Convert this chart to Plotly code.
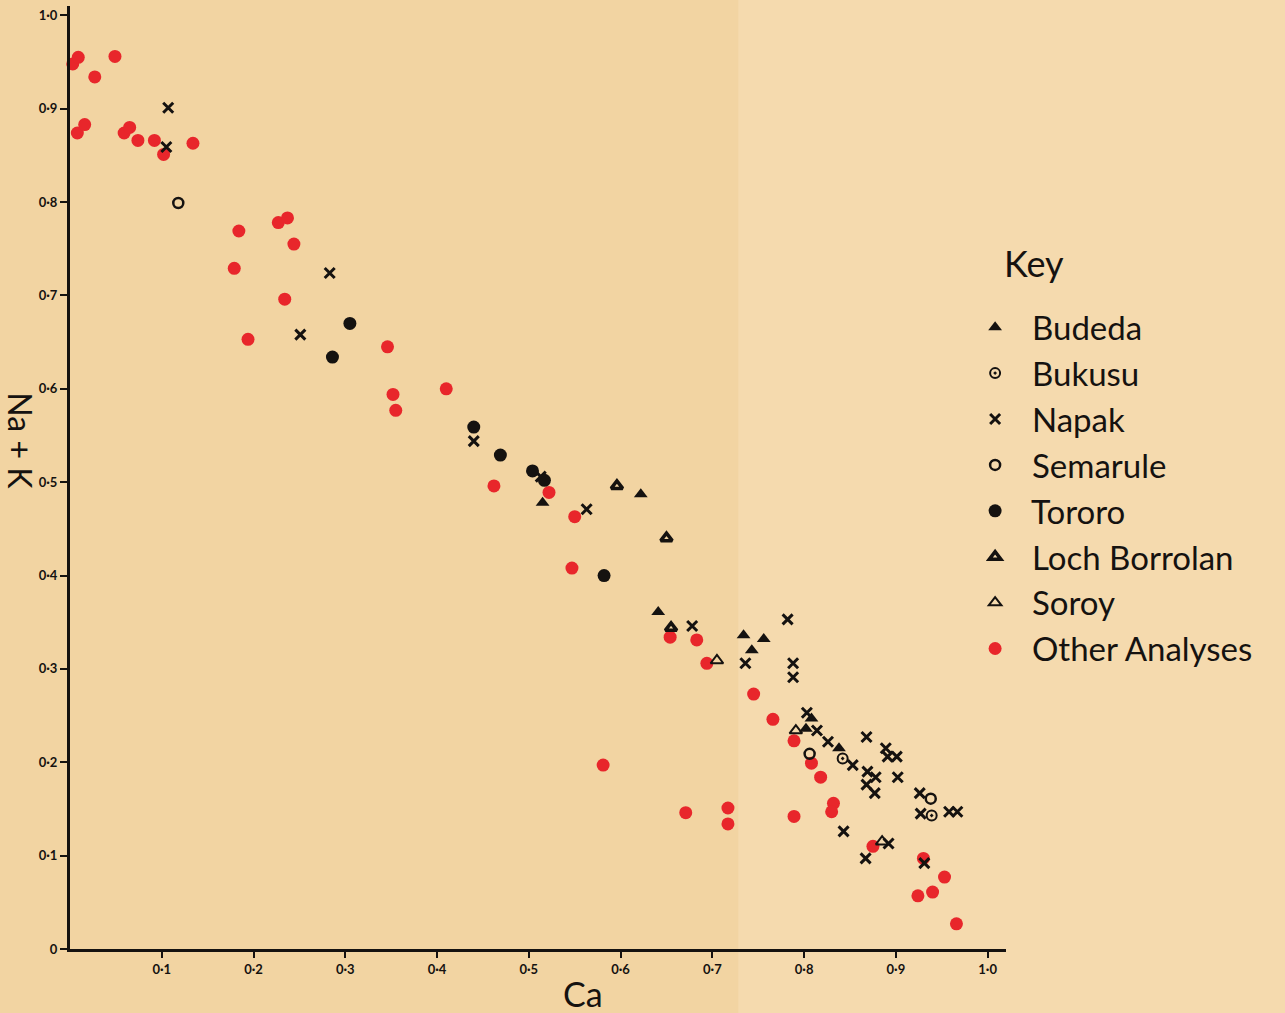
import plotly.graph_objects as go

# Ca vs Na + K for each locality (atomic proportions)
budeda_ca = [0.515, 0.622, 0.641, 0.734, 0.756, 0.743, 0.808, 0.802, 0.838]
budeda_nak = [0.478, 0.487, 0.361, 0.336, 0.332, 0.320, 0.247, 0.236, 0.215]

bukusu_ca = [0.842, 0.939]
bukusu_nak = [0.204, 0.143]

napak_ca = [0.107, 0.105, 0.283, 0.251, 0.440, 0.513, 0.563, 0.678, 0.736, 0.782,
            0.788, 0.788, 0.803, 0.814, 0.826, 0.853, 0.868, 0.889, 0.891, 0.901,
            0.869, 0.878, 0.868, 0.877, 0.902, 0.926, 0.927, 0.958, 0.967, 0.843,
            0.892, 0.867, 0.931]
napak_nak = [0.901, 0.859, 0.724, 0.658, 0.544, 0.506, 0.471, 0.346, 0.306, 0.353,
             0.306, 0.291, 0.253, 0.234, 0.222, 0.197, 0.227, 0.215, 0.206, 0.206,
             0.190, 0.184, 0.176, 0.167, 0.184, 0.167, 0.145, 0.147, 0.147, 0.126,
             0.113, 0.097, 0.092]

semarule_ca = [0.118, 0.806, 0.938]
semarule_nak = [0.799, 0.209, 0.161]

tororo_ca = [0.305, 0.286, 0.440, 0.469, 0.504, 0.517, 0.582]
tororo_nak = [0.670, 0.634, 0.559, 0.529, 0.512, 0.502, 0.400]

loch_ca = [0.596, 0.650, 0.655]
loch_nak = [0.496, 0.440, 0.344]

soroy_ca = [0.705, 0.791, 0.885]
soroy_nak = [0.309, 0.234, 0.115]

other_ca = [0.003, 0.009, 0.027, 0.049, 0.008, 0.016, 0.059, 0.065, 0.074, 0.092,
            0.102, 0.134, 0.184, 0.227, 0.237, 0.244, 0.179, 0.234, 0.194, 0.346,
            0.352, 0.355, 0.410, 0.462, 0.522, 0.550, 0.547, 0.654, 0.683, 0.694,
            0.745, 0.766, 0.789, 0.808, 0.818, 0.832, 0.830, 0.581, 0.671, 0.717,
            0.717, 0.789, 0.875, 0.930, 0.953, 0.940, 0.924, 0.966]
other_nak = [0.948, 0.955, 0.934, 0.956, 0.874, 0.883, 0.874, 0.880, 0.866, 0.866,
             0.851, 0.863, 0.769, 0.778, 0.783, 0.755, 0.729, 0.696, 0.653, 0.645,
             0.594, 0.577, 0.600, 0.496, 0.489, 0.463, 0.408, 0.334, 0.331, 0.306,
             0.273, 0.246, 0.223, 0.199, 0.184, 0.156, 0.147, 0.197, 0.146, 0.151,
             0.134, 0.142, 0.110, 0.097, 0.077, 0.061, 0.057, 0.027]

tick_vals = [0.1, 0.2, 0.3, 0.4, 0.5, 0.6, 0.7, 0.8, 0.9, 1.0]
tick_text = ["0·1", "0·2", "0·3", "0·4", "0·5", "0·6", "0·7", "0·8", "0·9", "1·0"]

INK = "#151210"
RED = "#E8262B"
PAPER_LEFT = "#F2D4A2"
PAPER_RIGHT = "#F5DAAE"
FONT = "Lato"
GAP = "&nbsp;&nbsp;"

fig = go.Figure()

# red background analyses go underneath the named localities
fig.add_trace(go.Scatter(
    x=other_ca, y=other_nak, mode="markers", name=GAP + "Other Analyses",
    legendrank=8,
    marker=dict(symbol="circle", size=13, color=RED, line=dict(width=0)),
))

series = [
    ("Budeda", budeda_ca, budeda_nak, dict(symbol="triangle-up", size=12, color=INK)),
    ("Bukusu", bukusu_ca, bukusu_nak,
     dict(symbol="circle-open-dot", size=10, color=INK, line=dict(width=2, color=INK))),
    ("Napak", napak_ca, napak_nak,
     dict(symbol="x-thin", size=10, color=INK, line=dict(width=3, color=INK))),
    ("Semarule", semarule_ca, semarule_nak,
     dict(symbol="circle-open", size=10, color=INK, line=dict(width=2.5, color=INK))),
    ("Tororo", tororo_ca, tororo_nak, dict(symbol="circle", size=13, color=INK)),
    ("Loch Borrolan", loch_ca, loch_nak,
     dict(symbol="triangle-up-open", size=10, color=INK, line=dict(width=3.5, color=INK))),
    ("Soroy", soroy_ca, soroy_nak,
     dict(symbol="triangle-up-open", size=11, color=INK, line=dict(width=2, color=INK))),
]
for rank, (name, xs, ys, marker) in enumerate(series, start=1):
    fig.add_trace(go.Scatter(
        x=xs, y=ys, mode="markers", name=GAP + name, legendrank=rank, marker=marker,
    ))

fig.update_traces(cliponaxis=False)

tick_font = dict(family=FONT, size=13, color=INK, weight=700)

fig.update_xaxes(
    range=[0, 1.02], tickvals=tick_vals, ticktext=tick_text,
    ticks="outside", ticklen=6, tickwidth=2, tickcolor=INK,
    showline=True, linewidth=3, linecolor=INK,
    showgrid=False, zeroline=False,
    tickfont=tick_font,
)
fig.update_yaxes(
    range=[0, 1.01], tickvals=[0] + tick_vals, ticktext=["0"] + tick_text,
    ticks="outside", ticklen=7, tickwidth=2, tickcolor=INK,
    showline=True, linewidth=3, linecolor=INK,
    showgrid=False, zeroline=False,
    tickfont=tick_font,
)

fig.update_layout(
    width=1285, height=1013,
    margin=dict(l=70, r=279, t=6, b=64),
    paper_bgcolor=PAPER_LEFT,
    plot_bgcolor="rgba(0,0,0,0)",
    font=dict(family=FONT, color=INK),
    showlegend=True,
    legend=dict(
        x=0.967, xanchor="left", y=0.689, yanchor="top",
        bgcolor="rgba(0,0,0,0)",
        font=dict(family=FONT, size=33, color=INK),
        itemsizing="trace",
    ),
    shapes=[
        # lighter half of the folded sheet
        dict(type="rect", xref="paper", yref="paper", x0=0.714, x1=1.4, y0=-0.1, y1=1.1,
             fillcolor=PAPER_RIGHT, line=dict(width=0), layer="below"),
    ],
    annotations=[
        dict(text="Key", xref="paper", yref="paper", x=0.996, y=0.727,
             showarrow=False, xanchor="left", yanchor="middle",
             font=dict(family=FONT, size=36, color=INK)),
        dict(text="Ca", xref="paper", yref="paper", x=0.548, y=-0.047,
             showarrow=False, xanchor="center", yanchor="middle",
             font=dict(family=FONT, size=34, color=INK)),
        dict(text="Na + K", xref="paper", yref="paper", x=-0.053, y=0.539,
             showarrow=False, xanchor="center", yanchor="middle", textangle=90,
             font=dict(family=FONT, size=32, color=INK)),
    ],
)

fig.write_html("out.html")
